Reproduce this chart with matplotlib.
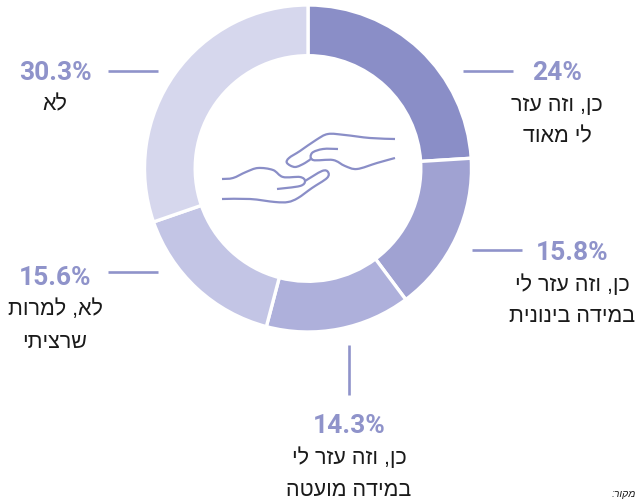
import matplotlib
matplotlib.use("Agg")
import matplotlib.pyplot as plt
from matplotlib.path import Path
from matplotlib.patches import PathPatch

W, H = 637, 501

pct_values = [24, 15.8, 14.3, 15.6, 30.3]
pct_labels = ["24%", "15.8%", "14.3%", "15.6%", "30.3%"]
answers = [
    ["כן, וזה עזר", "לי מאוד"],
    ["כן, וזה עזר לי", "במידה בינונית"],
    ["כן, וזה עזר לי", "במידה מועטה"],
    ["לא, למרות", "שרציתי"],
    ["לא"],
]
colors = ["#8a8ec7", "#a0a2d2", "#aeb0db", "#c3c5e5", "#d6d7ed"]
accent = "#8f93ca"

# hands icon, traced in pixels
hand_top = [(395, 139), (370, 138), (345, 135), (328, 134), (316, 140), (300, 151), (289, 158), (287, 163),
            (295, 167), (305, 163), (312, 158)]
hand_top_in = [(338, 149), (323, 149), (312, 153), (313, 160), (333, 160), (345, 166), (357, 169), (377, 163), (395, 158)]
hand_low = [(222, 179), (233, 178), (246, 172), (258, 168), (273, 170), (283, 177), (300, 177), (305, 181),
            (300, 186), (277, 189)]
hand_low_out = [(222, 199), (250, 199), (275, 202), (288, 202), (298, 198), (312, 188), (327, 178), (328, 172),
                (322, 171), (305, 181)]

fig = plt.figure(figsize=(W / 100, H / 100), dpi=100)

# donut
cx, cy, r = 308, 168.5, 163.5
ax = fig.add_axes([(cx - r) / W, 1 - (cy + r) / H, 2 * r / W, 2 * r / H])
ax.pie(pct_values, colors=colors, startangle=90, counterclock=False, radius=1,
       wedgeprops=dict(width=0.31, edgecolor="white", linewidth=2.4))
ax.set_xlim(-1, 1)
ax.set_ylim(-1, 1)
ax.axis("off")

# overlay in pixel coords
ov = fig.add_axes([0, 0, 1, 1])
ov.set_xlim(0, W)
ov.set_ylim(H, 0)
ov.axis("off")
ov.patch.set_alpha(0)


def heb(s):
    # matplotlib has no bidi, so feed it visual order
    return s[::-1]


def label(x, y, i):
    ov.text(x, y, pct_labels[i], ha="center", va="center", color=accent,
            family="Roboto", weight="bold", fontsize=19)
    for k, line in enumerate(answers[i]):
        ov.text(x, y + 32 + k * 32, heb(line), ha="center", va="center",
                color="#1a1a1a", family="Liberation Sans", fontsize=15.5)


label(557, 73, 0)
label(572, 253, 1)
label(349, 426, 2)
label(55, 278, 3)
label(55, 73, 4)

# leader lines
for x0, y0, x1, y1 in [(463, 71, 513, 71), (472, 250, 522, 250), (349, 345, 349, 395),
                       (108, 272, 158, 272), (108, 71, 158, 71)]:
    ov.plot([x0, x1], [y0, y1], color=accent, lw=1.9, solid_capstyle="butt")


def smooth(pts):
    # catmull-rom through the traced points
    verts = [pts[0]]
    for i in range(len(pts) - 1):
        p0 = pts[max(i - 1, 0)]
        p1, p2 = pts[i], pts[i + 1]
        p3 = pts[min(i + 2, len(pts) - 1)]
        verts.append((p1[0] + (p2[0] - p0[0]) / 6, p1[1] + (p2[1] - p0[1]) / 6))
        verts.append((p2[0] - (p3[0] - p1[0]) / 6, p2[1] - (p3[1] - p1[1]) / 6))
        verts.append(p2)
    return Path(verts, [Path.MOVETO] + [Path.CURVE4] * (len(verts) - 1))


for pts in (hand_top, hand_top_in, hand_low, hand_low_out):
    ov.add_patch(PathPatch(smooth(pts), fill=False, edgecolor="#8a8ec7", lw=1.6))

# source note at the bottom edge
ov.text(636, 489, heb("מקור:"), ha="right", va="top", style="italic",
        family="Liberation Sans", fontsize=7.5, color="#1a1a1a")

fig.savefig("out.png", dpi=100, facecolor="white")
